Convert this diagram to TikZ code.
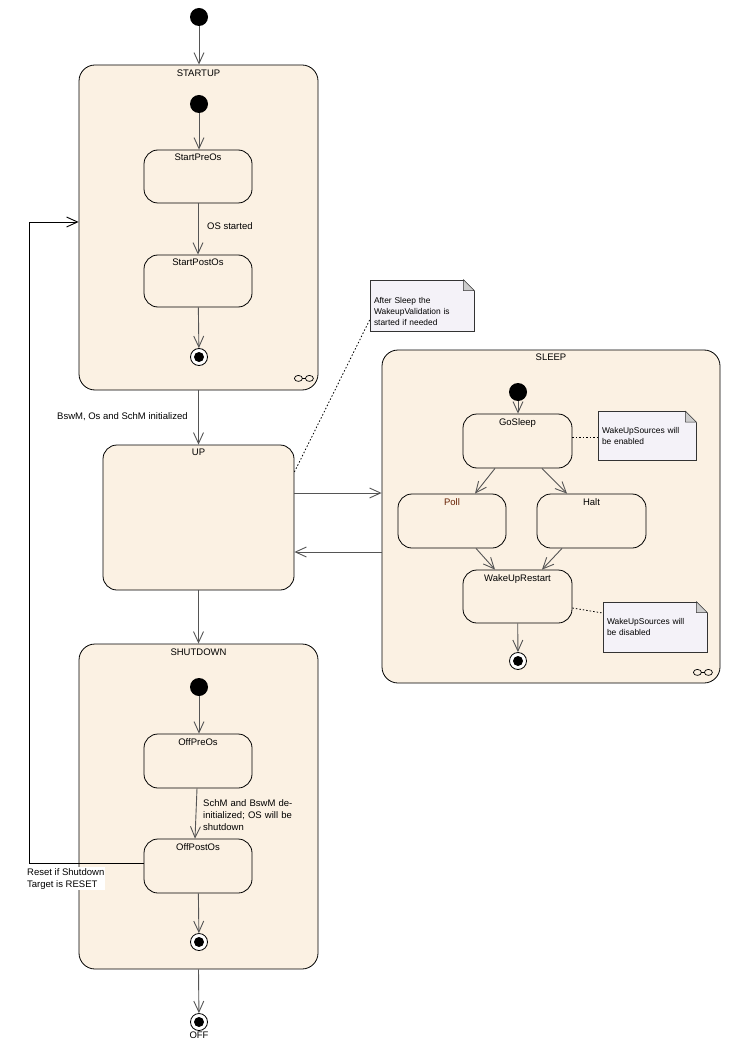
\documentclass[tikz,border=0pt]{standalone}
\usepackage{fontspec}
\setmainfont{Liberation Sans}
\usetikzlibrary{arrows.meta}
\definecolor{stfill}{RGB}{251,241,227}
\definecolor{notefill}{RGB}{244,242,248}
\definecolor{foldfill}{RGB}{205,205,205}
\definecolor{trcol}{RGB}{85,85,85}
\definecolor{pollcol}{RGB}{100,30,0}
\newcommand\mainfs{\fontsize{9.5}{12}\selectfont}
\newcommand\notefs{\fontsize{8.4}{11}\selectfont}
\tikzset{
  stbox/.style={draw=black, line width=0.8pt, fill=stfill, rounded corners=14pt, inner sep=0pt},
  compbox/.style={stbox, rounded corners=16pt},
  slbl/.style={anchor=north, inner sep=0pt, font=\mainfs},
  tr/.style={draw=trcol, line width=0.9pt, -{Straight Barb[length=11pt,width=10pt,line width=0.9pt]}},
  initst/.style={circle, fill=black, minimum size=18pt, inner sep=0pt},
  finalst/.style={circle, draw=black, line width=0.8pt, fill=white, minimum size=17pt, inner sep=0pt,
    path picture={\fill[black] (path picture bounding box.center) circle (5pt);}},
  umlnote/.style={rectangle, draw=black!80, line width=0.8pt, fill=notefill, font=\notefs, align=left,
    inner xsep=4pt, inner ysep=2pt},
  fold/.style={draw=black!80, line width=0.6pt, fill=foldfill, line join=round},
  dotl/.style={draw=black, line width=0.8pt, dash pattern=on 1.5pt off 2pt},
  txt/.style={font=\mainfs, inner sep=0pt, align=left},
  infsym/.style={draw=black, line width=0.7pt},
}
\begin{document}
\begin{tikzpicture}[x=1pt,y=-1pt]
\path[use as bounding box, fill=white] (0,0) rectangle (736,1048);

% ---------- composite boxes ----------
\node[compbox, minimum width=239pt, minimum height=325pt] (startup) at (198.5,227.5) {};
\node[stbox, minimum width=191pt, minimum height=145pt] (up) at (198.5,517.5) {};
\node[compbox, minimum width=338pt, minimum height=333pt] (sleep) at (551,516.5) {};
\node[compbox, minimum width=239pt, minimum height=325pt] (shutdown) at (198.5,806.5) {};

\node[slbl] (lstartup) at ([yshift=-5pt]startup.north) {STARTUP};
\node[slbl] (lup) at ([yshift=-4pt]up.north) {UP};
\node[slbl] (lsleep) at ([yshift=-4pt]sleep.north) {SLEEP};
\node[slbl] (lshutdown) at ([yshift=-5pt]shutdown.north) {SHUTDOWN};

% infinity marks of composite states
\draw[infsym] ([shift={(-20,-12)}]startup.south east) ellipse (4 and 3);
\draw[infsym] ([shift={(-9,-12)}]startup.south east) ellipse (4 and 3);
\draw[infsym] ([shift={(-16,-12)}]startup.south east) -- ([shift={(-13,-12)}]startup.south east);
\draw[infsym] ([shift={(-23,-11)}]sleep.south east) ellipse (4 and 3);
\draw[infsym] ([shift={(-12,-11)}]sleep.south east) ellipse (4 and 3);
\draw[infsym] ([shift={(-19,-11)}]sleep.south east) -- ([shift={(-16,-11)}]sleep.south east);

% ---------- top level ----------
\node[initst] (i0) at (199,17) {};
\node[finalst] (foff) at (199,1022) {};
\node[txt, anchor=north] (loff) at ([yshift=-1pt]foff.south) {OFF};

% ---------- STARTUP ----------
\node[initst] (i1) at (199,104) {};
\node[stbox, minimum width=108pt, minimum height=53pt] (startpre) at (198,176.5) {};
\node[slbl] (lstartpre) at ([yshift=-4.5pt]startpre.north) {StartPreOs};
\node[stbox, minimum width=108pt, minimum height=52pt] (startpost) at (198,281) {};
\node[slbl] (lstartpost) at ([yshift=-4.5pt]startpost.north) {StartPostOs};
\node[finalst] (f1) at (199,357) {};

% ---------- SLEEP ----------
\node[initst] (i3) at (518,392) {};
\node[stbox, minimum width=109pt, minimum height=54pt] (gosleep) at (517.5,441) {};
\node[slbl] (lgosleep) at ([yshift=-4.5pt]gosleep.north) {GoSleep};
\node[stbox, minimum width=108pt, minimum height=54pt] (poll) at (452,521) {};
\node[slbl, text=pollcol] (lpoll) at ([yshift=-4.5pt]poll.north) {Poll};
\node[stbox, minimum width=109pt, minimum height=54pt] (halt) at (591.5,521) {};
\node[slbl] (lhalt) at ([yshift=-4.5pt]halt.north) {Halt};
\node[stbox, minimum width=109pt, minimum height=53pt] (wur) at (517.5,596.5) {};
\node[slbl] (lwur) at ([yshift=-4.5pt]wur.north) {WakeUpRestart};
\node[finalst] (f3) at (518,661) {};

% ---------- SHUTDOWN ----------
\node[initst] (i2) at (199,687) {};
\node[stbox, minimum width=108pt, minimum height=54pt] (offpre) at (198,761) {};
\node[slbl] (loffpre) at ([yshift=-4.5pt]offpre.north) {OffPreOs};
\node[stbox, minimum width=108pt, minimum height=54pt] (offpost) at (198,866) {};
\node[slbl] (loffpost) at ([yshift=-4.5pt]offpost.north) {OffPostOs};
\node[finalst] (f2) at (199,942) {};

% ---------- notes ----------
\node[umlnote, minimum width=104pt, minimum height=51pt, text width=96pt] (note3) at (422,305.5)
  {\rule{0pt}{18pt}After Sleep the\\WakeupValidation is\\started if needed};
\node[umlnote, minimum width=98pt, minimum height=49pt, text width=90pt] (note1) at (647,436)
  {WakeUpSources will\\be enabled};
\node[umlnote, minimum width=104pt, minimum height=50pt, text width=96pt] (note2) at (655,627)
  {WakeUpSources will\\be disabled};
\coordinate (c3) at (note3.north -| note3.east);
\coordinate (c1) at (note1.north -| note1.east);
\coordinate (c2) at (note2.north -| note2.east);
\foreach \c/\bg in {c1/stfill,c2/stfill,c3/white}{
  \fill[\bg] ([shift={(-12,-1.5)}]\c) -- ([shift={(1.5,-1.5)}]\c) -- ([shift={(1.5,12.5)}]\c) -- cycle;
  \draw[fold] ([xshift=-11pt]\c) -- ([xshift=-11pt,yshift=-11pt]\c) -- ([yshift=-11pt]\c) -- cycle;
}

% ---------- note connectors ----------
\draw[dotl] ([yshift=-14.5pt]note3.west) -- (up.east |- 0,472);
\draw[dotl] (gosleep.east |- 0,437) -- (note1.west |- 0,437);
\draw[dotl] (wur.east |- 0,608) -- (note2.west |- 0,613);

% ---------- transitions ----------
\draw[tr] (i0) -- (i0 |- startup.north);
\draw[tr] (i1) -- (i1 |- startpre.north);
\draw[tr] (startpre) -- (startpost.north);
\node[txt, anchor=west] (los) at (207,226) {OS started};
\draw[tr] (startpost) -- (f1);

\draw[tr] (startup.south) -- (up.north);
\node[txt, anchor=west] (lbsw) at (57,417) {BswM, Os and SchM initialized};

\draw[tr] (up.east |- 0,493) -- (sleep.west |- 0,493);
\draw[tr] (sleep.west |- 0,552) -- (up.east |- 0,552);

\draw[tr] (i3) -- (i3 |- gosleep.north);
\draw[tr] ([xshift=-22.5pt]gosleep.south) -- ([xshift=23pt]poll.north);
\draw[tr] ([xshift=24.5pt]gosleep.south) -- ([xshift=-24.5pt]halt.north);
\draw[tr] ([xshift=24pt]poll.south) -- ([xshift=-22.5pt]wur.north);
\draw[tr] ([xshift=-29.5pt]halt.south) -- ([xshift=24.5pt]wur.north);
\draw[tr] (wur) -- (f3);

\draw[tr] (up.south) -- (shutdown.north);
\draw[tr] (i2) -- (i2 |- offpre.north);
\draw[tr] ([xshift=-1pt]offpre.south) -- ([xshift=-3pt]offpost.north);
\node[txt, anchor=north west, text width=100pt] (lschm) at (203,799)
  {SchM and BswM de-\\initialized; OS will be\\shutdown};
\draw[tr] (offpost) -- (f2);
\draw[tr] (shutdown.south) -- (foff);

\draw[tr, draw=black] (offpost.west |- 0,863) -- (29,863) -- (29,222) -- (startup.west |- 0,222);
\node[txt, anchor=north west, fill=white, inner sep=1pt] (lreset) at (26,867)
  {Reset if Shutdown\\Target is RESET};
\end{tikzpicture}
\end{document}
